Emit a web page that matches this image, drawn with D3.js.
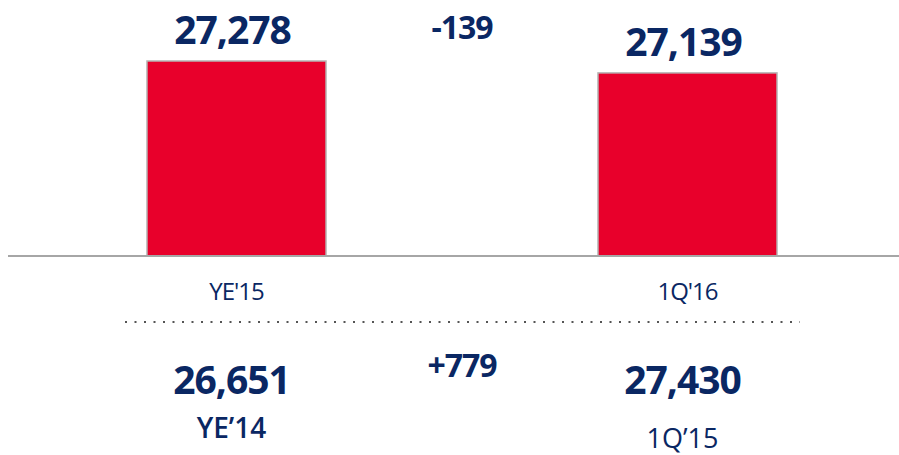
<!DOCTYPE html>
<html lang="en">
<head>
<meta charset="UTF-8">
<title>Chart</title>
<script src="https://cdn.jsdelivr.net/npm/d3@7"></script>
<style>
  body { margin: 0; padding: 0; background: #fff; }
  text { font-family: "Open Sans", "DejaVu Sans", sans-serif; fill: #0a2763; text-anchor: middle; }
  .big { font-weight: 700; font-size: 39px; letter-spacing: -1px; }
  .delta { font-weight: 700; font-size: 32px; letter-spacing: -1px; }
  .cat { font-size: 24px; letter-spacing: -1px; }
</style>
</head>
<body>
<svg width="899" height="455"></svg>
<script>
// current period
var categories = ["YE'15", "1Q'16"]
var values = [27278, 27139]
var delta = "-139"

// comparison period
var prevCategories = ["YE\u201914", "1Q\u201915"]
var prevValues = [26651, 27430]
var prevDelta = "+779"

var fmt = d3.format(",")
var svg = d3.select('svg')

var x = d3.scaleBand()
    .domain(categories)
    .range([11, 913])
    .paddingInner(0.603)
    .paddingOuter(0.3015)

var y = d3.scaleLinear()
    .domain([25000, 27500])
    .range([256, 42])

svg.selectAll('rect.bar')
    .data(values)
    .enter()
    .append('rect')
    .attr('class', 'bar')
    .attr('x', (d, i) => x(categories[i]))
    .attr('y', d => y(d))
    .attr('width', x.bandwidth())
    .attr('height', d => y.range()[0] - y(d))
    .attr('fill', '#e8002b')
    .attr('stroke', '#b5b5b5')
    .attr('stroke-width', 1.5)

// baseline
svg.append('line')
    .attr('x1', 8).attr('x2', 899)
    .attr('y1', y.range()[0]).attr('y2', y.range()[0])
    .attr('stroke', '#a6a6a6')
    .attr('stroke-width', 2)

var cx = d => x(d) + x.bandwidth() / 2

// value labels above bars
svg.selectAll('text.val')
    .data(values)
    .enter()
    .append('text')
    .attr('class', 'big')
    .attr('x', (d, i) => cx(categories[i]) - 4)
    .attr('y', d => y(d) - 17)
    .text(d => fmt(d))

svg.append('text')
    .attr('class', 'delta')
    .attr('x', (cx(categories[0]) + cx(categories[1])) / 2)
    .attr('y', 39)
    .text(delta)

// category labels
svg.selectAll('text.cat')
    .data(categories)
    .enter()
    .append('text')
    .attr('class', 'cat')
    .attr('x', d => cx(d))
    .attr('y', 300)
    .text(d => d)

// dotted separator
svg.append('line')
    .attr('x1', 125).attr('x2', 800)
    .attr('y1', 322).attr('y2', 322)
    .attr('stroke', '#555')
    .attr('stroke-width', 2)
    .attr('stroke-dasharray', '2,7.5')

// comparison row
svg.selectAll('text.prev')
    .data(prevValues)
    .enter()
    .append('text')
    .attr('class', 'big')
    .attr('x', (d, i) => cx(categories[i]) - 5)
    .attr('y', 394)
    .text(d => fmt(d))

svg.append('text')
    .attr('class', 'delta')
    .attr('x', (cx(categories[0]) + cx(categories[1])) / 2)
    .attr('y', 377)
    .text(prevDelta)

svg.selectAll('text.prevcat')
    .data(prevCategories)
    .enter()
    .append('text')
    .attr('x', (d, i) => cx(categories[i]) - 5)
    .attr('y', (d, i) => i == 0 ? 438 : 448)
    .style('font-size', (d, i) => i == 0 ? '28px' : '27px')
    .style('font-weight', (d, i) => i == 0 ? 600 : 400)
    .text(d => d)
</script>
</body>
</html>
